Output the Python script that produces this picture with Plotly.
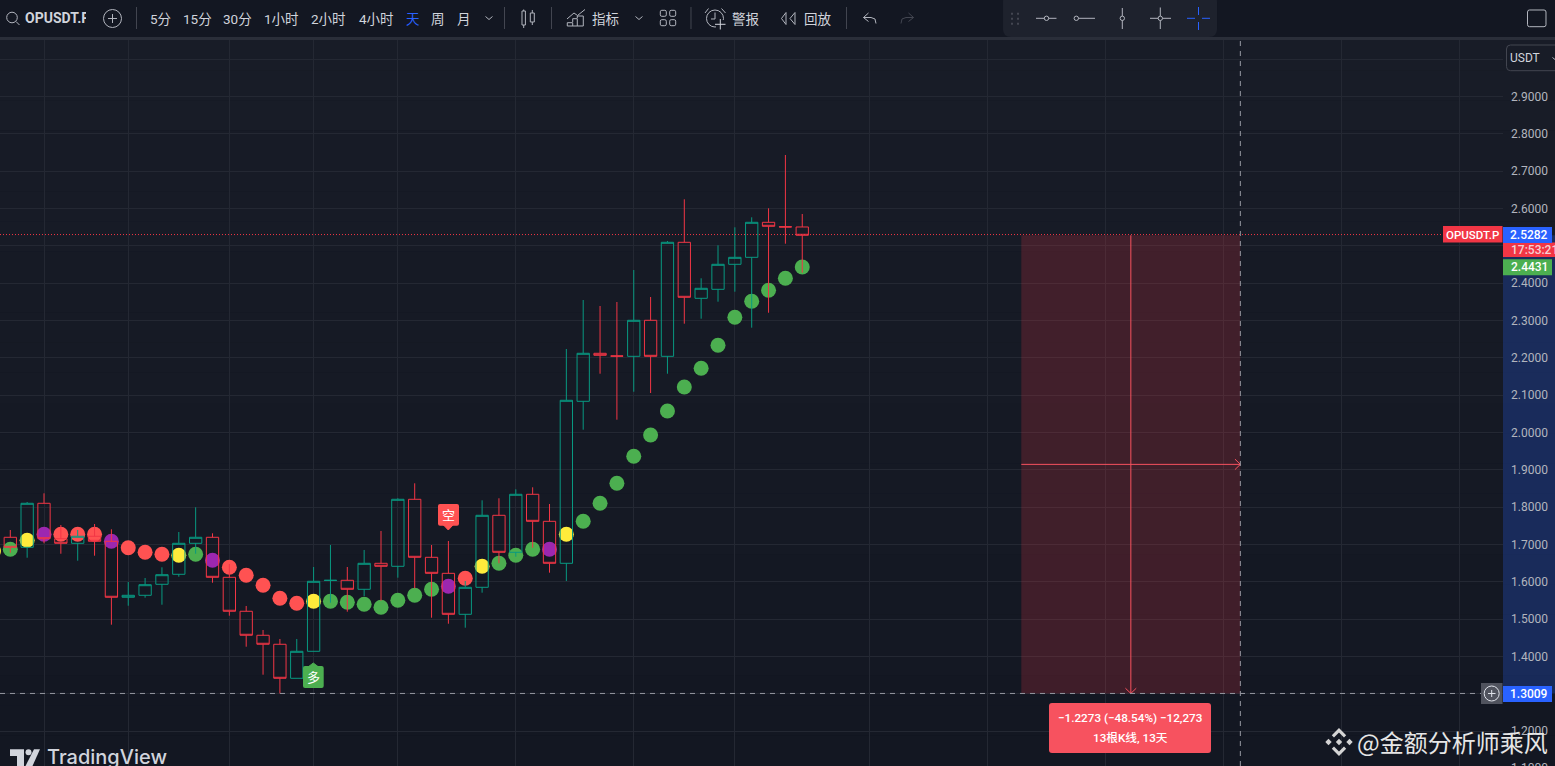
"""OPUSDT.P daily chart with SAR style dots and a short position measure."""

import plotly.graph_objects as go

W, H = 1555, 766
AXIS_LEFT, CHART_TOP = 1503, 40

# candles, one per day
OPENS = [1.7192, 1.6924, 1.8103, 1.7154, 1.7031, 1.7219, 1.7085, 1.5585, 1.5638, 1.5933, 1.6201, 1.7031,
         1.7192, 1.6120, 1.5210, 1.4567, 1.4326, 1.3415, 1.4138, 1.6035, 1.6040, 1.5799, 1.6495, 1.6415,
         1.8210, 1.6656, 1.6227, 1.5129, 1.5852, 1.7781, 1.6790, 1.8344, 1.7620, 1.6495, 2.0835, 2.2121,
         2.2050, 2.2040, 2.3005, 2.2040, 2.5094, 2.3594, 2.3835, 2.4505, 2.4692, 2.5630, 2.5512, 2.5505]
HIGHS = [1.7387, 1.8137, 1.8370, 1.7521, 1.7387, 1.7548, 1.7406, 1.5994, 1.6101, 1.6388, 1.7334, 1.7995,
         1.7299, 1.6477, 1.5352, 1.4709, 1.4468, 1.4468, 1.6396, 1.6986, 1.6396, 1.6852, 1.7361, 1.8237,
         1.8638, 1.6986, 1.7093, 1.6021, 1.8183, 1.8237, 1.8478, 1.8531, 1.8084, 2.2236, 2.3549, 2.3388,
         2.3495, 2.4352, 2.3629, 2.5129, 2.6246, 2.4130, 2.5014, 2.5496, 2.5764, 2.6005, 2.7433, 2.5852]
LOWS = [1.6779, 1.6645, 1.7031, 1.6752, 1.6565, 1.6699, 1.4851, 1.5359, 1.5574, 1.5386, 1.6136, 1.6752,
        1.5976, 1.5092, 1.4261, 1.3511, 1.3009, 1.3415, 1.4138, 1.5440, 1.5199, 1.5619, 1.5493, 1.6110,
        1.5826, 1.5038, 1.4877, 1.4770, 1.5708, 1.6495, 1.6672, 1.6913, 1.6244, 1.6021, 2.0074, 2.1574,
        2.0342, 2.1092, 2.1057, 2.1574, 2.2914, 2.3048, 2.3503, 2.3771, 2.2807, 2.3208, 2.5057, 2.4280]
CLOSES = [1.6924, 1.8103, 1.7154, 1.7031, 1.7219, 1.7085, 1.5585, 1.5638, 1.5922, 1.6190, 1.7031, 1.7192,
          1.6120, 1.5210, 1.4567, 1.4326, 1.3415, 1.4138, 1.6013, 1.6040, 1.5799, 1.6495, 1.6415, 1.8210,
          1.6656, 1.6227, 1.5129, 1.5852, 1.7781, 1.6790, 1.8344, 1.7620, 1.6495, 2.0862, 2.2121, 2.2067,
          2.2045, 2.3005, 2.2040, 2.5094, 2.3621, 2.3862, 2.4505, 2.4692, 2.5630, 2.5523, 2.5505, 2.5282]
BARS = list(range(len(OPENS)))

# trend dots, the first one belongs to the bar left of the window
DOT_BARS = list(range(-1, 48))
DOT_VALUES = [1.6825, 1.6870, 1.7111, 1.7272, 1.7272, 1.7272, 1.7272, 1.7085, 1.6913, 1.6790, 1.6736, 1.6710,
              1.6736, 1.6576, 1.6388, 1.6174, 1.5906, 1.5558, 1.5424, 1.5477, 1.5477, 1.5451, 1.5397, 1.5317,
              1.5504, 1.5638, 1.5799, 1.5879, 1.6094, 1.6415, 1.6495, 1.6710, 1.6870, 1.6870, 1.7272, 1.7620,
              1.8103, 1.8638, 1.9362, 1.9932, 2.0575, 2.1218, 2.1719, 2.2335, 2.3085, 2.3514, 2.3808, 2.4130,
              2.4431]
DOT_STATES = ["y", "g", "y", "p", "r", "r", "r", "p", "r", "r", "r", "y", "g", "p", "r", "r", "r", "r", "r",
              "y", "g", "g", "g", "g", "g", "g", "g", "p", "r", "y", "g", "g", "g", "p", "y", "g", "g", "g",
              "g", "g", "g", "g", "g", "g", "g", "g", "g", "g", "g"]
STATE_COLORS = {"y": "#ffeb3b", "g": "#4caf50", "p": "#9c27b0", "r": "#ff5252"}

# 1.3, 2.5 and 3.0 sit behind the price labels, so they show no text
PRICE_TICKS = [1.2, 1.3, 1.4, 1.5, 1.6, 1.7, 1.8, 1.9, 2.0, 2.1, 2.2, 2.3, 2.4, 2.5, 2.6, 2.7, 2.8, 2.9, 3.0]
PRICE_LABELS = ["1.2000", "", "1.4000", "1.5000", "1.6000", "1.7000", "1.8000", "1.9000", "2.0000", "2.1000",
                "2.2000", "2.3000", "2.4000", "", "2.6000", "2.7000", "2.8000", "2.9000", ""]
GRID_BARS = [2, 7, 13, 18, 23, 30, 37, 43, 51, 58, 65, 72, 79, 86]

LAST_PRICE = 2.5282
LAST_DOT = 2.4431
TARGET_PRICE = 1.3009
MEASURE_START, MEASURE_END = 60, 73

TOOLBAR_ITEMS = [("5分", 160), ("15分", 197), ("30分", 237), ("1小时", 281), ("2小时", 328), ("4小时", 376),
                 ("周", 438), ("月", 464), ("指标", 605), ("警报", 745), ("回放", 818)]

TEXT = "#d1d4dc"
MUTED = "#b2b5be"
BLUE = "#2962ff"
RED = "#f23645"
FONT = "Roboto, 'Noto Sans CJK SC'"
CJK = "'Noto Sans CJK SC'"

shapes = []
notes = []


def sx(v):
    return v / W


def sy(v):
    return 1 - v / H


def add_poly(pts, color=TEXT, width=1, fill=None, closed=False):
    """Polyline given in screen pixels."""
    d = "M" + " L".join(f"{sx(x):.5f},{sy(y):.5f}" for x, y in pts) + (" Z" if closed else "")
    shapes.append(dict(type="path", path=d, xref="paper", yref="paper", layer="above",
                       fillcolor=fill or "rgba(0,0,0,0)", line=dict(color=color, width=width)))


def add_round(x0, y0, x1, y1, r=3, fill=None, color=None, width=1, layer="above", top=True):
    """Rounded box given in screen pixels."""
    rt = r if top else 0
    d = (f"M{sx(x0 + rt):.5f},{sy(y0):.5f} L{sx(x1 - rt):.5f},{sy(y0):.5f} "
         f"Q{sx(x1):.5f},{sy(y0):.5f} {sx(x1):.5f},{sy(y0 + rt):.5f} "
         f"L{sx(x1):.5f},{sy(y1 - r):.5f} Q{sx(x1):.5f},{sy(y1):.5f} {sx(x1 - r):.5f},{sy(y1):.5f} "
         f"L{sx(x0 + r):.5f},{sy(y1):.5f} Q{sx(x0):.5f},{sy(y1):.5f} {sx(x0):.5f},{sy(y1 - r):.5f} "
         f"L{sx(x0):.5f},{sy(y0 + rt):.5f} Q{sx(x0):.5f},{sy(y0):.5f} {sx(x0 + rt):.5f},{sy(y0):.5f} Z")
    shapes.append(dict(type="path", path=d, xref="paper", yref="paper", layer=layer,
                       fillcolor=fill or "rgba(0,0,0,0)",
                       line=dict(color=color or "rgba(0,0,0,0)", width=width if color else 0)))


def add_rect(x0, y0, x1, y1, fill, layer="above"):
    shapes.append(dict(type="rect", xref="paper", yref="paper", layer=layer, x0=sx(x0), x1=sx(x1),
                       y0=sy(y0), y1=sy(y1), fillcolor=fill, line=dict(width=0)))


def add_ring(cx, cy, r, color=TEXT, width=1, fill=None):
    shapes.append(dict(type="circle", xref="paper", yref="paper", layer="above", x0=sx(cx - r), x1=sx(cx + r),
                       y0=sy(cy - r), y1=sy(cy + r), fillcolor=fill or "rgba(0,0,0,0)",
                       line=dict(color=color, width=width)))


def add_text(x, y, text, size=13, color=TEXT, anchor="center", family=FONT, **kw):
    notes.append(dict(x=sx(x), y=sy(y), xref="paper", yref="paper", text=text, showarrow=False,
                      xanchor=anchor, yanchor="middle", borderpad=0, borderwidth=0,
                      font=dict(family=family, size=size, color=color, **kw.pop("font_kw", {})), **kw))


# background, a little lighter at the top of the chart
top_rgb, bottom_rgb = (24, 28, 39), (19, 23, 34)
for step in range(24):
    t = step / 23
    rgb = [round(a + (b - a) * t) for a, b in zip(top_rgb, bottom_rgb)]
    add_rect(0, CHART_TOP + step * (H - CHART_TOP) / 24, W, CHART_TOP + (step + 1) * (H - CHART_TOP) / 24,
             f"rgb({rgb[0]},{rgb[1]},{rgb[2]})", layer="below")

# price axis highlight of the measured range
shapes.append(dict(type="rect", xref="paper", yref="y", layer="below", x0=AXIS_LEFT / W, x1=1,
                   y0=TARGET_PRICE, y1=LAST_PRICE, fillcolor="rgba(41,98,255,0.25)", line=dict(width=0)))

# short position measure
shapes.append(dict(type="rect", xref="x", yref="y", layer="above", x0=MEASURE_START, x1=MEASURE_END,
                   y0=TARGET_PRICE, y1=LAST_PRICE, fillcolor="rgba(242,54,69,0.2)", line=dict(width=0)))
mid_bar = (MEASURE_START + MEASURE_END) / 2
mid_price = (LAST_PRICE + TARGET_PRICE) / 2
measure_lines = [
    ((MEASURE_START, mid_price), (MEASURE_END, mid_price)),
    ((mid_bar, LAST_PRICE), (mid_bar, TARGET_PRICE)),
    ((MEASURE_END - 0.32, mid_price + 0.014), (MEASURE_END, mid_price)),
    ((MEASURE_END - 0.32, mid_price - 0.014), (MEASURE_END, mid_price)),
    ((mid_bar - 0.32, TARGET_PRICE + 0.014), (mid_bar, TARGET_PRICE)),
    ((mid_bar + 0.32, TARGET_PRICE + 0.014), (mid_bar, TARGET_PRICE)),
]
for (x0, y0), (x1, y1) in measure_lines:
    shapes.append(dict(type="line", xref="x", yref="y", layer="above", x0=x0, x1=x1, y0=y0, y1=y1,
                       line=dict(color="#f7525f", width=1)))

# last price and crosshair lines
shapes.append(dict(type="line", xref="paper", yref="y", layer="above", x0=0, x1=AXIS_LEFT / W,
                   y0=LAST_PRICE + 0.002, y1=LAST_PRICE + 0.002, line=dict(color=RED, width=1, dash="1px,2px")))
shapes.append(dict(type="line", xref="paper", yref="y", layer="above", x0=0, x1=1481 / W,
                   y0=TARGET_PRICE, y1=TARGET_PRICE, line=dict(color="#9598a1", width=1, dash="5px,5px")))
shapes.append(dict(type="line", xref="x", yref="paper", layer="above", x0=MEASURE_END, x1=MEASURE_END,
                   y0=0, y1=1 - CHART_TOP / H, line=dict(color="#9598a1", width=1, dash="5px,5px")))

# top toolbar
add_rect(0, 0, W, 37, "#131722")
add_rect(0, 37, W, 40, "#2a2e39")
for x in (136.5, 504.5, 551.5, 691, 846.5):
    add_poly([(x, 7), (x, 29)], color="#434651")
add_ring(12, 17.5, 5.3, color=MUTED)
add_poly([(16, 21.5), (19.5, 25)], color=MUTED)
add_ring(112.5, 18.5, 9, color=MUTED)
add_poly([(108, 18.5), (117, 18.5)], color=MUTED)
add_poly([(112.5, 14), (112.5, 23)], color=MUTED)
notes.append(dict(x=sx(24), y=sy(18), xref="paper", yref="paper", text="<b>OPUSDT.P</b>", showarrow=False,
                  xanchor="left", yanchor="middle", width=61, align="left", borderpad=0,
                  font=dict(family=FONT, size=14, color=TEXT)))
for label, x in TOOLBAR_ITEMS:
    add_text(x, 19, label, size=13.5)
add_text(412.5, 19, "天", size=13.5, color=BLUE)
add_poly([(485.5, 16.5), (489, 19.5), (492.5, 16.5)], color=MUTED)

# candle icon
add_poly([(523.7, 9.5), (523.7, 11)], color=MUTED)
add_poly([(523.7, 25), (523.7, 28)], color=MUTED)
add_poly([(522, 11), (525.4, 11), (525.4, 25), (522, 25)], color=MUTED, closed=True)
add_poly([(532.3, 10), (532.3, 13)], color=MUTED)
add_poly([(532.3, 22), (532.3, 25)], color=MUTED)
add_poly([(530.3, 13), (534.3, 13), (534.3, 22), (530.3, 22)], color=MUTED, closed=True)

# indicator icon
add_poly([(567, 19), (574, 13), (577.5, 15.5), (585, 9.5)], color=MUTED)
add_poly([(567.3, 26), (567.3, 22.7), (572.7, 22.7), (572.7, 26)], color=MUTED)
add_poly([(572.7, 22), (572.7, 18.7), (577.3, 18.7), (577.3, 26)], color=MUTED)
add_poly([(577.3, 18), (577.3, 16), (583.3, 16), (583.3, 26), (567.3, 26)], color=MUTED)
add_poly([(635.5, 16.5), (639, 19.5), (642.5, 16.5)], color=MUTED)

# layout icon
for gx in (660.3, 669.7):
    for gy in (10.3, 19.7):
        add_round(gx, gy, gx + 6, gy + 6, r=1.5, color=MUTED)

# alarm icon
add_ring(715, 18.5, 8.5, color=MUTED)
add_poly([(715, 12.5), (715, 19), (711, 19)], color=MUTED)
add_poly([(705, 13), (708.5, 8.5)], color=MUTED)
add_poly([(721.5, 8.5), (725.5, 13)], color=MUTED)
add_rect(716, 20, 726, 30, "#131722")
add_poly([(720.3, 19), (720.3, 29.5)], color=TEXT)
add_poly([(715, 24.3), (725.5, 24.3)], color=TEXT)

# replay icon
add_poly([(786, 12.5), (781.5, 18.5), (786, 24.5)], color=MUTED, closed=True)
add_poly([(795, 12.5), (790, 18.5), (795, 24.5)], color=MUTED, closed=True)

# undo and redo icons
add_poly([(868.5, 13), (863.5, 17.5), (868.5, 21.5)], color=MUTED)
add_poly([(863.5, 17.5), (871, 17.5), (875, 19), (876, 23.5)], color=MUTED)
add_poly([(908.5, 13), (913.5, 17.5), (908.5, 21.5)], color="#434651")
add_poly([(913.5, 17.5), (906, 17.5), (902, 19), (901, 23.5)], color="#434651")

# floating drawing toolbar
add_round(1003, -6, 1217, 37, r=8, fill="#1e222d")
for hx in (1011, 1017):
    for hy in (12.7, 17.7, 22.7):
        add_rect(hx, hy, hx + 2, hy + 2, "#434651")
add_poly([(1036, 18.3), (1056.5, 18.3)], color=MUTED)
add_ring(1046.5, 18.3, 2.2, color=MUTED, fill="#1e222d")
add_poly([(1078, 18.3), (1095, 18.3)], color=MUTED)
add_ring(1076.3, 18.3, 2.2, color=MUTED, fill="#1e222d")
add_poly([(1122.3, 8), (1122.3, 29)], color=MUTED)
add_ring(1122.3, 18.3, 2.2, color=MUTED, fill="#1e222d")
add_poly([(1150, 18.3), (1171, 18.3)], color=MUTED)
add_poly([(1160.3, 7.5), (1160.3, 29)], color=MUTED)
add_ring(1160.3, 18.3, 2.2, color=MUTED, fill="#1e222d")
add_poly([(1187, 18.3), (1195, 18.3)], color=BLUE)
add_poly([(1202, 18.3), (1210, 18.3)], color=BLUE)
add_poly([(1198.5, 7), (1198.5, 15)], color=BLUE)
add_poly([(1198.5, 22), (1198.5, 30)], color=BLUE)

# fullscreen and currency boxes
add_round(1527.5, 10, 1546, 26.7, r=2, color=MUTED)
add_round(1506.5, 45, 1570, 70.7, r=4, color="#434651")
add_text(1510, 58, "USDT", size=12, anchor="left", font_kw={})
add_poly([(1552.5, 57.5), (1555, 59.5)], color=MUTED)
add_text(1511, 768, "1.1000", size=12, color=MUTED, anchor="left", family="Roboto")

# price axis labels
bold = dict(weight=500)
add_rect(1443, 226, 1502.5, 242.5, RED)
add_text(1472.5, 234.5, "OPUSDT.P", size=11.5, color="#ffffff", font_kw=bold)
add_rect(1503, 242.5, W, 257, RED)
add_text(1511, 249.5, "17:53:21", size=12, color="#f5d0d4", anchor="left", font_kw=bold)
add_rect(1503, 227, 1552, 243, BLUE)
add_text(1529, 235.3, "2.5282", size=12, color="#ffffff", font_kw=bold)
add_rect(1503, 259.3, 1552, 275.3, "#4caf50")
add_text(1529, 267.3, "2.4431", size=12, color="#ffffff", font_kw=bold)
add_rect(1481, 683, 1502.5, 704, "#50535e")
add_ring(1491.7, 693.5, 7.5, color="#e0e3eb", width=1)
add_poly([(1488, 693.5), (1495.5, 693.5)], color="#e0e3eb")
add_poly([(1491.7, 690), (1491.7, 697)], color="#e0e3eb")
add_rect(1503, 686, 1552, 702, BLUE)
add_text(1529, 693.8, "1.3009", size=12, color="#ffffff", font_kw=bold)

# measure tooltip
add_round(1049, 703, 1211, 753, r=3, fill="#f7525f")
add_text(1130, 717.5, "−1.2273 (−48.54%) −12,273", size=11.7, color="#ffffff", font_kw=bold)
add_text(1130, 738, "13根K线, 13天", size=11.7, color="#ffffff", font_kw=bold)

# long and short badges
add_poly([(308, 667), (313.3, 663), (318.6, 667)], color="#4caf50", fill="#4caf50", closed=True)
add_round(303, 666, 323.7, 688, r=2, fill="#4caf50")
add_text(313.3, 676.3, "多", size=13, color="#ffffff", family=CJK)
add_poly([(443.5, 525), (448.3, 530), (453, 525)], color="#ff5252", fill="#ff5252", closed=True)
add_round(438, 504, 459, 525.7, r=2, fill="#ff5252")
add_text(448.3, 514.5, "空", size=13, color="#ffffff", family=CJK)

# TradingView mark
add_poly([(10, 749.3), (24, 749.3), (24, 766), (17, 766), (17, 756), (10, 756)], color=TEXT, width=0,
         fill=TEXT, closed=True)
add_ring(28.5, 752.3, 3, color=TEXT, fill=TEXT, width=0)
add_poly([(34, 749.3), (40, 749.3), (32.5, 766), (25.5, 766)], color=TEXT, width=0, fill=TEXT, closed=True)
add_text(47, 757, "TradingView", size=20, anchor="left", family="Inter", font_kw=dict(weight=500))

# Binance mark and author
bx, by = 1339, 742
for part in (
    [(0, -3.2), (3.2, 0), (0, 3.2), (-3.2, 0)],
    [(-10.5, -3.2), (-7.3, 0), (-10.5, 3.2), (-13.7, 0)],
    [(10.5, -3.2), (13.7, 0), (10.5, 3.2), (7.3, 0)],
    [(0, -14), (7.2, -6.8), (5, -4.6), (0, -9.6), (-5, -4.6), (-7.2, -6.8)],
    [(0, 14), (7.2, 6.8), (5, 4.6), (0, 9.6), (-5, 4.6), (-7.2, 6.8)],
):
    add_poly([(bx + px, by + py) for px, py in part], color="#d4d4d4", width=0, fill="#d4d4d4", closed=True)
add_text(1357, 741, "@金额分析师乘风", size=24, color="#e6e6e6", anchor="left", family=CJK)

fig = go.Figure()
fig.add_trace(go.Scatter(
    x=DOT_BARS,
    y=DOT_VALUES,
    mode="markers",
    marker=dict(size=15, color=[STATE_COLORS[s] for s in DOT_STATES], line=dict(width=0)),
    hoverinfo="skip",
))
# candles sit on an overlaying y axis so they stay on top of the dots
fig.add_trace(go.Candlestick(
    x=BARS,
    open=OPENS,
    high=HIGHS,
    low=LOWS,
    close=CLOSES,
    yaxis="y2",
    whiskerwidth=0,
    increasing=dict(line=dict(color="#089981", width=1), fillcolor="rgba(0,0,0,0)"),
    decreasing=dict(line=dict(color=RED, width=1), fillcolor="rgba(0,0,0,0)"),
    hoverinfo="skip",
))

price_range = [2.9 - (H - 96.5) / 373.3, 2.9 + (96.5 - CHART_TOP) / 373.3]
fig.update_layout(
    width=W,
    height=H,
    margin=dict(l=0, r=0, t=0, b=0),
    paper_bgcolor="#131722",
    plot_bgcolor="rgba(0,0,0,0)",
    showlegend=False,
    boxgap=0.27,
    boxgroupgap=0,
    shapes=shapes,
    annotations=notes,
    xaxis=dict(
        domain=[0, AXIS_LEFT / W],
        range=[-10.3 / 16.85, (AXIS_LEFT - 10.3) / 16.85],
        tickmode="array",
        tickvals=GRID_BARS,
        showticklabels=False,
        ticks="",
        showgrid=True,
        gridcolor="#242833",
        gridwidth=1,
        zeroline=False,
        showline=False,
        rangeslider=dict(visible=False),
    ),
    yaxis=dict(
        domain=[0, 1 - CHART_TOP / H],
        range=price_range,
        side="right",
        tickmode="array",
        tickvals=PRICE_TICKS,
        ticktext=PRICE_LABELS,
        ticks="",
        ticklabelstandoff=7,
        tickfont=dict(family="Roboto", size=12, color=MUTED),
        showgrid=True,
        gridcolor="#242833",
        gridwidth=1,
        zeroline=False,
        showline=False,
    ),
    yaxis2=dict(
        domain=[0, 1 - CHART_TOP / H],
        range=price_range,
        overlaying="y",
        side="right",
        visible=False,
        showgrid=False,
        zeroline=False,
    ),
)

fig.write_html("out.html", config=dict(displayModeBar=False),
               post_script="document.body.style.margin='0';document.body.style.overflow='hidden';")
